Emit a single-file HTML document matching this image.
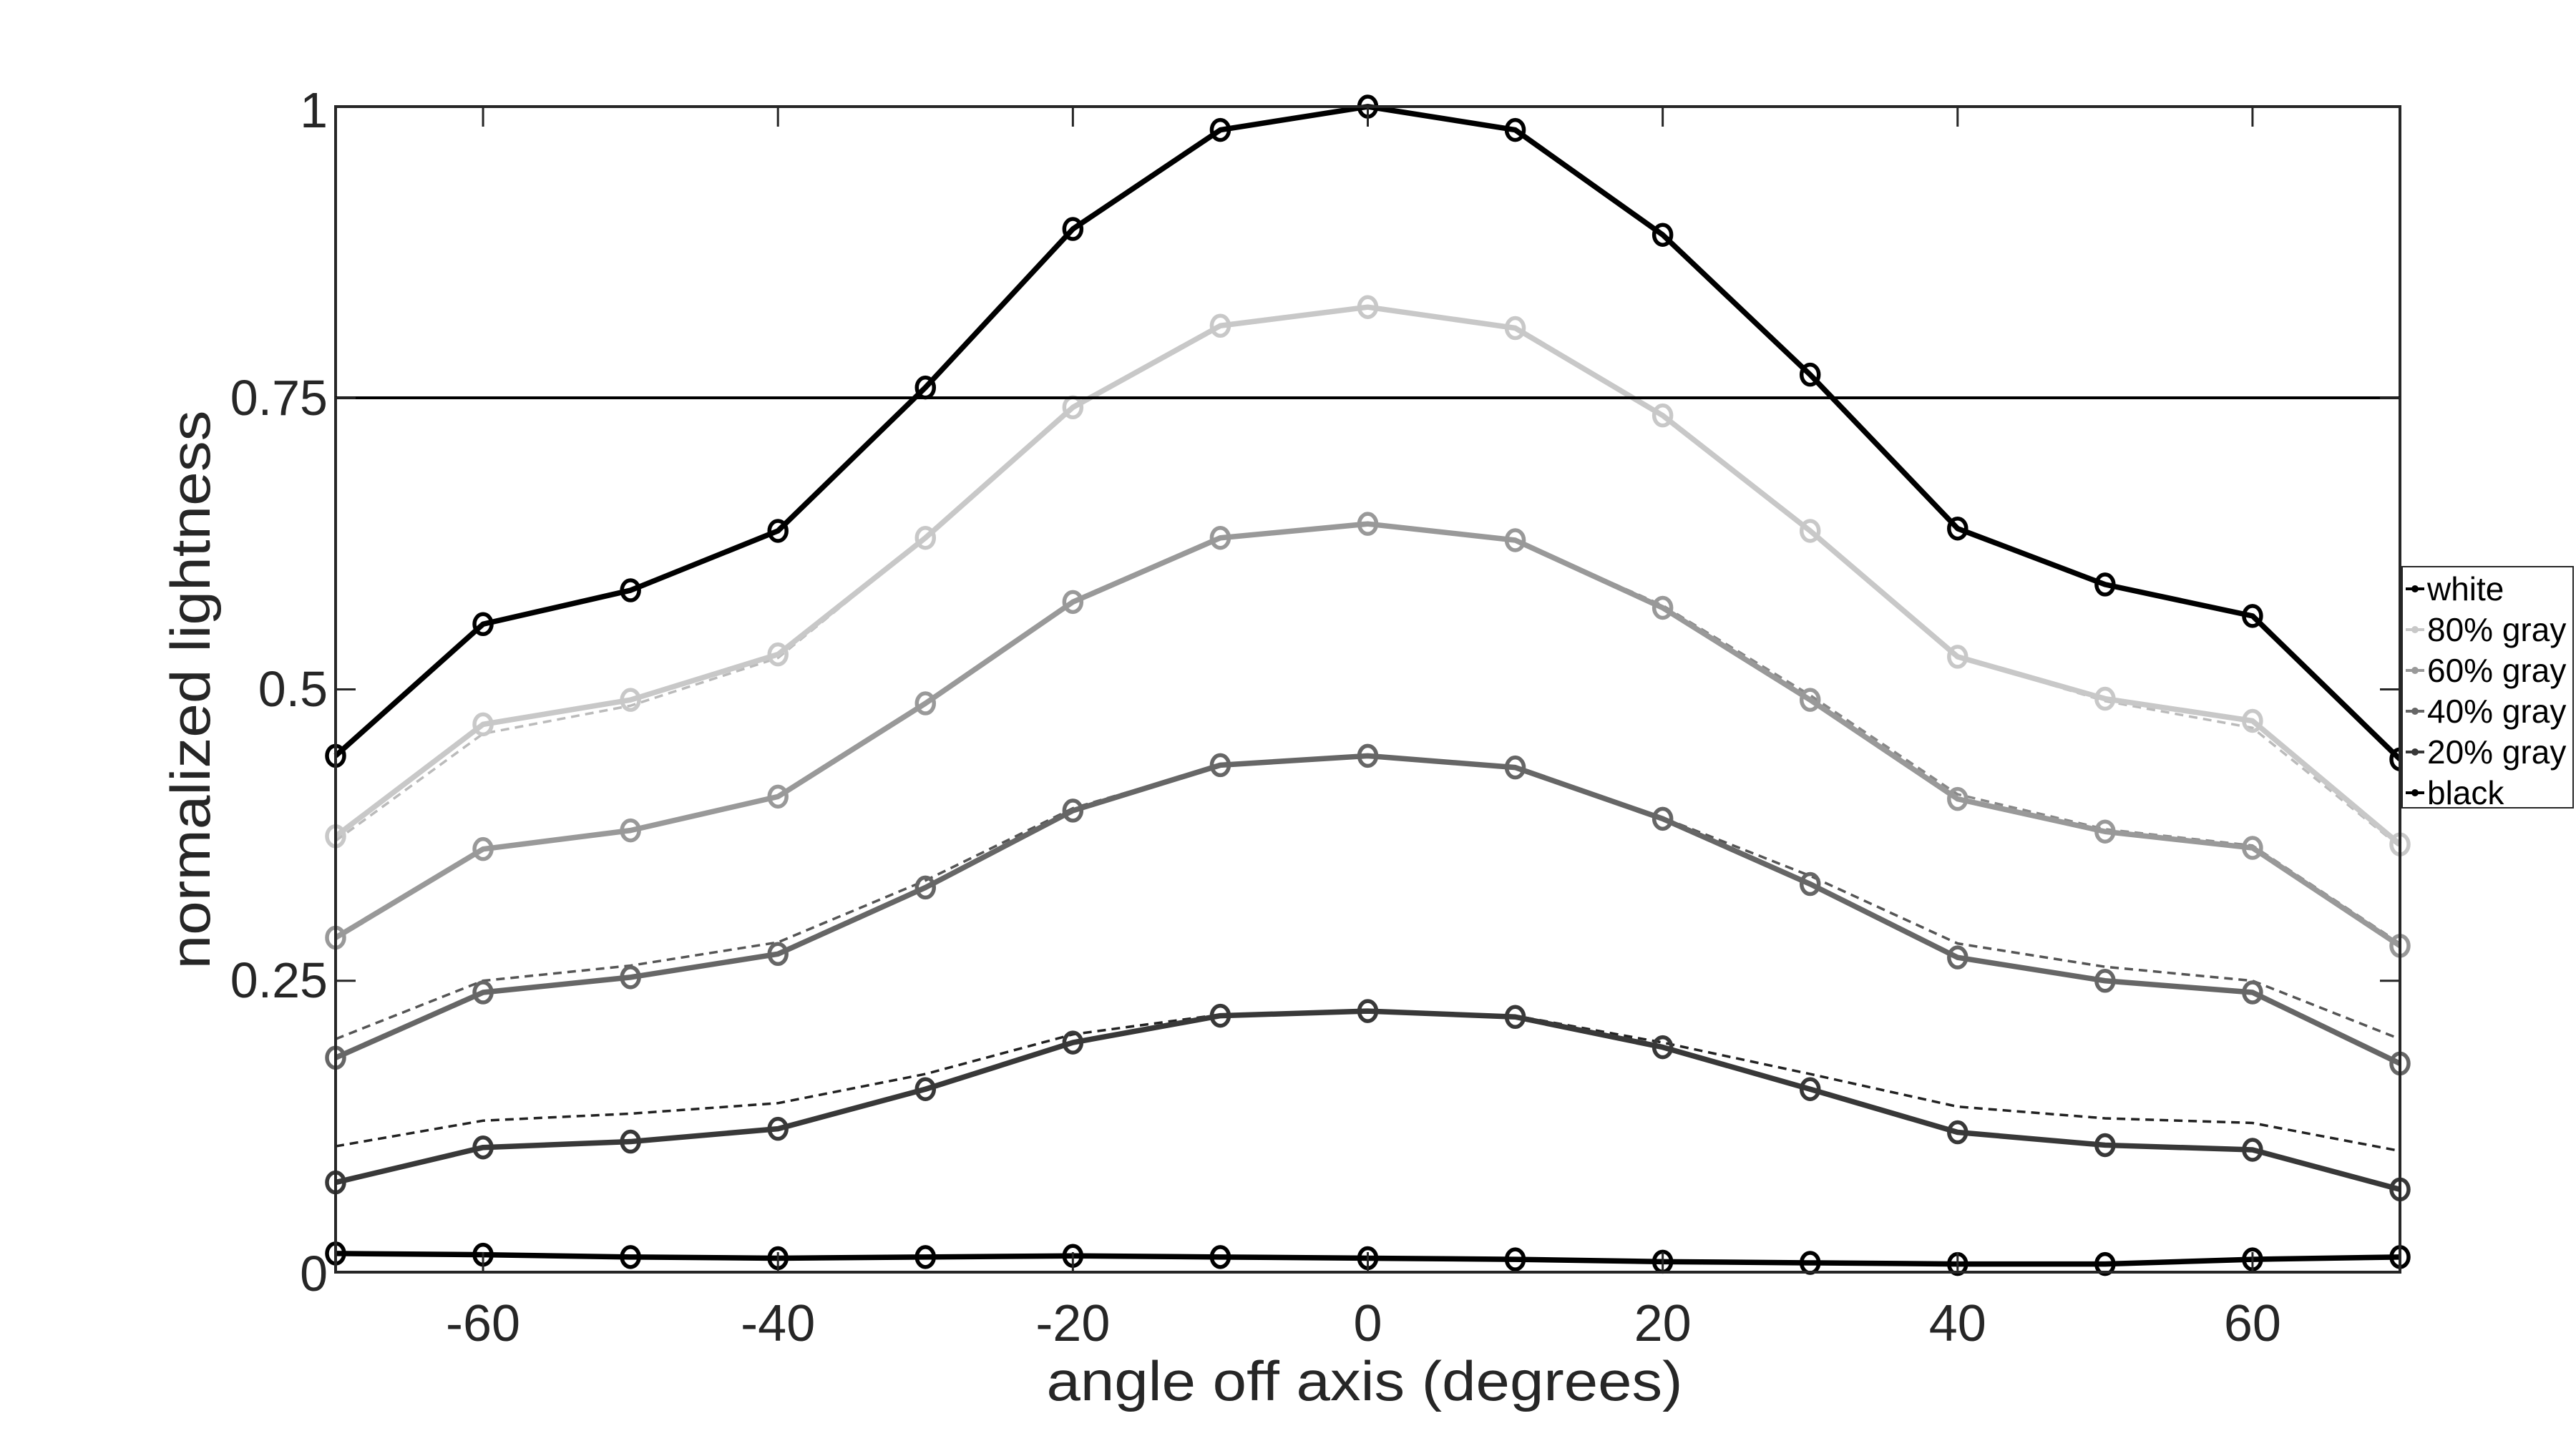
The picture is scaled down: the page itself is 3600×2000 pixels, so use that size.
<!DOCTYPE html>
<html><head><meta charset="utf-8"><style>html,body{margin:0;padding:0;background:#fff}svg{display:block}</style></head>
<body>
<svg id="s" xmlns="http://www.w3.org/2000/svg" width="3600" height="2000" viewBox="0 0 3600 2000" font-family="Liberation Sans, sans-serif" fill="#262626">
<rect width="3600" height="2000" fill="#fff"/>
<g id="plot"></g>
<rect x="469" y="149" width="2885" height="1629" fill="none" stroke="#262626" stroke-width="4"/>
<line x1="469" y1="556" x2="3354" y2="556" stroke="#000" stroke-width="4"/>
<g id="ticks" stroke="#262626" stroke-width="3"></g>
<g font-size="70" text-anchor="end" dominant-baseline="central">
<text x="458" y="154">1</text><text x="458" y="556">0.75</text><text x="458" y="963">0.5</text><text x="458" y="1370">0.25</text><text x="458" y="1780">0</text>
</g>
<g font-size="72" text-anchor="middle" id="xl"></g>
<text x="1907" y="1957" font-size="78" text-anchor="middle" textLength="889" lengthAdjust="spacingAndGlyphs">angle off axis (degrees)</text>
<text transform="translate(293,964) rotate(-90)" font-size="78" text-anchor="middle" textLength="781" lengthAdjust="spacingAndGlyphs">normalized lightness</text>
<rect x="3357" y="792" width="239" height="337" fill="#fff" stroke="#262626" stroke-width="2"/>
<g id="leg" font-size="46" fill="#000" dominant-baseline="central"></g>
</svg>
<script>
var X0=469,X1=3354,Y0=1778,Y1=149;
function px(a){return X0+(a+70)/140*(X1-X0);}
function py(v){return Y0-v*(Y0-Y1);}
var ang=[-70,-60,-50,-40,-30,-20,-10,0,10,20,30,40,50,60,70];
var S=[
{c:"#000",d:[0.443,0.556,0.585,0.636,0.759,0.895,0.98,1,0.98,0.89,0.77,0.638,0.59,0.563,0.44]},
{c:"#c8c8c8",d:[0.374,0.47,0.491,0.53,0.63,0.742,0.812,0.828,0.81,0.735,0.636,0.528,0.492,0.473,0.367],
 dc:"#bbbbbb",dd:[0.37,0.462,0.486,0.527,0.63,0.742,0.812,0.828,0.81,0.735,0.636,0.528,0.49,0.467,0.365]},
{c:"#999",d:[0.287,0.363,0.379,0.408,0.488,0.575,0.63,0.642,0.628,0.57,0.491,0.406,0.378,0.364,0.28],
 dc:"#888",dd:[0.287,0.362,0.379,0.408,0.488,0.575,0.63,0.642,0.628,0.572,0.495,0.41,0.38,0.366,0.282]},
{c:"#666",d:[0.184,0.24,0.253,0.273,0.33,0.396,0.435,0.443,0.433,0.389,0.333,0.27,0.25,0.24,0.179],
 dc:"#555",dd:[0.2,0.25,0.263,0.283,0.336,0.398,0.435,0.443,0.433,0.39,0.34,0.282,0.262,0.25,0.2]},
{c:"#383838",d:[0.077,0.107,0.112,0.123,0.157,0.197,0.22,0.224,0.219,0.193,0.157,0.12,0.109,0.105,0.071],
 dc:"#222",dd:[0.108,0.13,0.136,0.145,0.17,0.204,0.221,0.224,0.22,0.197,0.17,0.142,0.132,0.128,0.104]},
{c:"#000",d:[0.016,0.015,0.013,0.012,0.013,0.014,0.013,0.012,0.011,0.009,0.008,0.007,0.007,0.011,0.013]}
];
var h="";
S.forEach(function(s){
 if(s.dd){h+='<polyline fill="none" stroke="'+s.dc+'" stroke-width="3.5" stroke-dasharray="12,8" points="'+s.dd.map(function(v,i){return px(ang[i])+','+py(v)}).join(' ')+'"/>';}
});
S.forEach(function(s){
 var pts=s.d.map(function(v,i){return px(ang[i])+','+py(v)}).join(' ');
 h+='<polyline fill="none" stroke="'+s.c+'" stroke-width="7.5" stroke-linejoin="round" points="'+pts+'"/>';
 s.d.forEach(function(v,i){h+='<ellipse cx="'+px(ang[i])+'" cy="'+py(v)+'" rx="12" ry="14" fill="none" stroke="'+s.c+'" stroke-width="5.5"/>';});
});
document.getElementById('plot').innerHTML=h;
var t="",xl="";
for(var a=-60;a<=60;a+=20){var x=px(a);t+='<line x1="'+x+'" y1="1778" x2="'+x+'" y2="1750"/><line x1="'+x+'" y1="149" x2="'+x+'" y2="177"/>';xl+='<text x="'+x+'" y="1874">'+a+'</text>';}
[0.25,0.5,0.75].forEach(function(v){var y=py(v);t+='<line x1="469" y1="'+y+'" x2="497" y2="'+y+'"/><line x1="3354" y1="'+y+'" x2="3326" y2="'+y+'"/>';});
document.getElementById('ticks').innerHTML=t;
document.getElementById('xl').innerHTML=xl;
var names=["white","80% gray","60% gray","40% gray","20% gray","black"],cols=["#000","#c8c8c8","#999","#666","#383838","#000"],lg="";
names.forEach(function(n,i){var y=823+i*57;lg+='<line x1="3362" y1="'+y+'" x2="3388" y2="'+y+'" stroke="'+cols[i]+'" stroke-width="4"/><circle cx="3375" cy="'+y+'" r="5" fill="'+cols[i]+'"/><text x="3392" y="'+y+'">'+n+'</text>';});
document.getElementById('leg').innerHTML=lg;
</script>
</body></html>
